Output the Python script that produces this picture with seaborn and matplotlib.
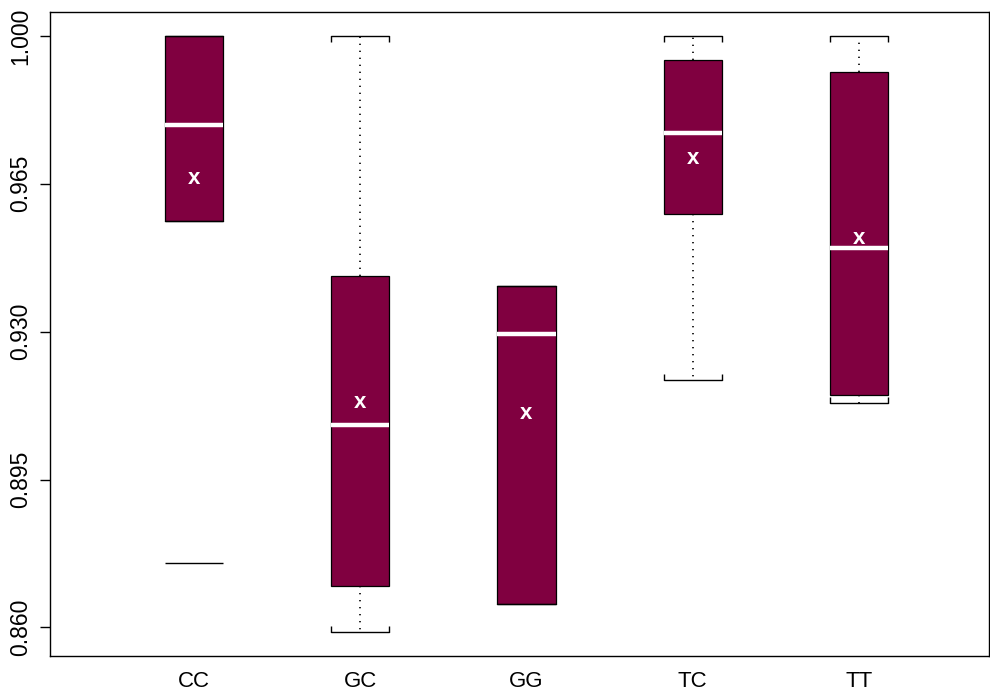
import numpy as np
import pandas as pd
import matplotlib
matplotlib.use("Agg")
import matplotlib.pyplot as plt
import seaborn as sns

# Genotype groups and five-number summaries of the score
groups = ["CC", "GC", "GG", "TC", "TT"]
whisker_low = [0.9563, 0.8589, 0.8655, 0.9186, 0.9132]
q1 = [0.9563, 0.8698, 0.8655, 0.9578, 0.9149]
median = [0.9790, 0.9078, 0.9294, 0.9769, 0.9498]
q3 = [1.0000, 0.9432, 0.9408, 0.9944, 0.9914]
whisker_high = [1.0000, 1.0000, 0.9408, 1.0000, 1.0000]
means = [0.9663, 0.9133, 0.9107, 0.9710, 0.9521]
# Outlying observations (group, value)
outlier_groups = ["CC"]
outlier_values = [0.8752]

y_ticks = [0.860, 0.895, 0.930, 0.965, 1.000]

box_color = "#800040"
box_width = 0.35

# Long-form table: each group's summary values, so the computed quartiles
# reproduce the summary exactly
rows = []
for g, lo, a, m, b, hi in zip(groups, whisker_low, q1, median, q3, whisker_high):
    for v in (lo, a, m, b, hi):
        rows.append({"group": g, "value": v})
df = pd.DataFrame(rows)

sns.set_style("white")
plt.rcParams["font.family"] = ["Liberation Sans", "DejaVu Sans"]

fig = plt.figure(figsize=(9.9, 6.94), dpi=100)
ax = fig.add_axes([50 / 990, 38 / 694, 939 / 990, 644 / 694])

sns.boxplot(
    data=df, x="group", y="value", order=groups, ax=ax,
    whis=(0, 100), width=box_width, color=box_color, saturation=1,
    linecolor="black", linewidth=0.9, showfliers=False,
    medianprops={"color": "white", "linewidth": 3.2, "solid_capstyle": "butt"},
    whiskerprops={"color": "black", "linewidth": 1.2, "linestyle": (0, (0.8, 3.4))},
    capprops={"color": "black", "linewidth": 1.0},
    capwidths=box_width,
)

# Small end ticks on the whisker caps
pos = {g: i for i, g in enumerate(groups)}
tick_len = 0.00142
for i, g in enumerate(groups):
    for cap, box_edge, sign in ((whisker_low[i], q1[i], 1), (whisker_high[i], q3[i], -1)):
        if cap != box_edge:
            ax.vlines([i - box_width / 2, i + box_width / 2], cap, cap + sign * tick_len,
                      color="black", linewidth=1.0, zorder=1)

# Outliers drawn as short horizontal bars
for g, v in zip(outlier_groups, outlier_values):
    i = pos[g]
    ax.hlines(v, i - box_width / 2, i + box_width / 2, color="black", linewidth=1.0, zorder=3)

# Group means
for i, m in enumerate(means):
    ax.text(i, m, "x", color="white", fontsize=16, fontweight="bold",
            ha="center", va="center", zorder=5)

lo_all = min(min(whisker_low), min(outlier_values))
hi_all = max(whisker_high)
pad = 0.04 * (hi_all - lo_all)
ax.set_ylim(lo_all - pad, hi_all + pad)
ax.set_xlim(-0.866, 4.782)

ax.set_yticks(y_ticks)
ax.set_yticklabels([f"{t:.3f}" for t in y_ticks], rotation=90, va="center")
ax.tick_params(axis="y", left=True, length=7, width=1, direction="out", pad=6,
               labelsize=16.5, color="black", labelcolor="black")
ax.tick_params(axis="x", bottom=False, length=0, pad=11, labelsize=16, labelcolor="black")
ax.set_xlabel("")
ax.set_ylabel("")
for s in ax.spines.values():
    s.set_visible(True)
    s.set_color("black")
    s.set_linewidth(1.0)

fig.savefig("out.png", dpi=100)
